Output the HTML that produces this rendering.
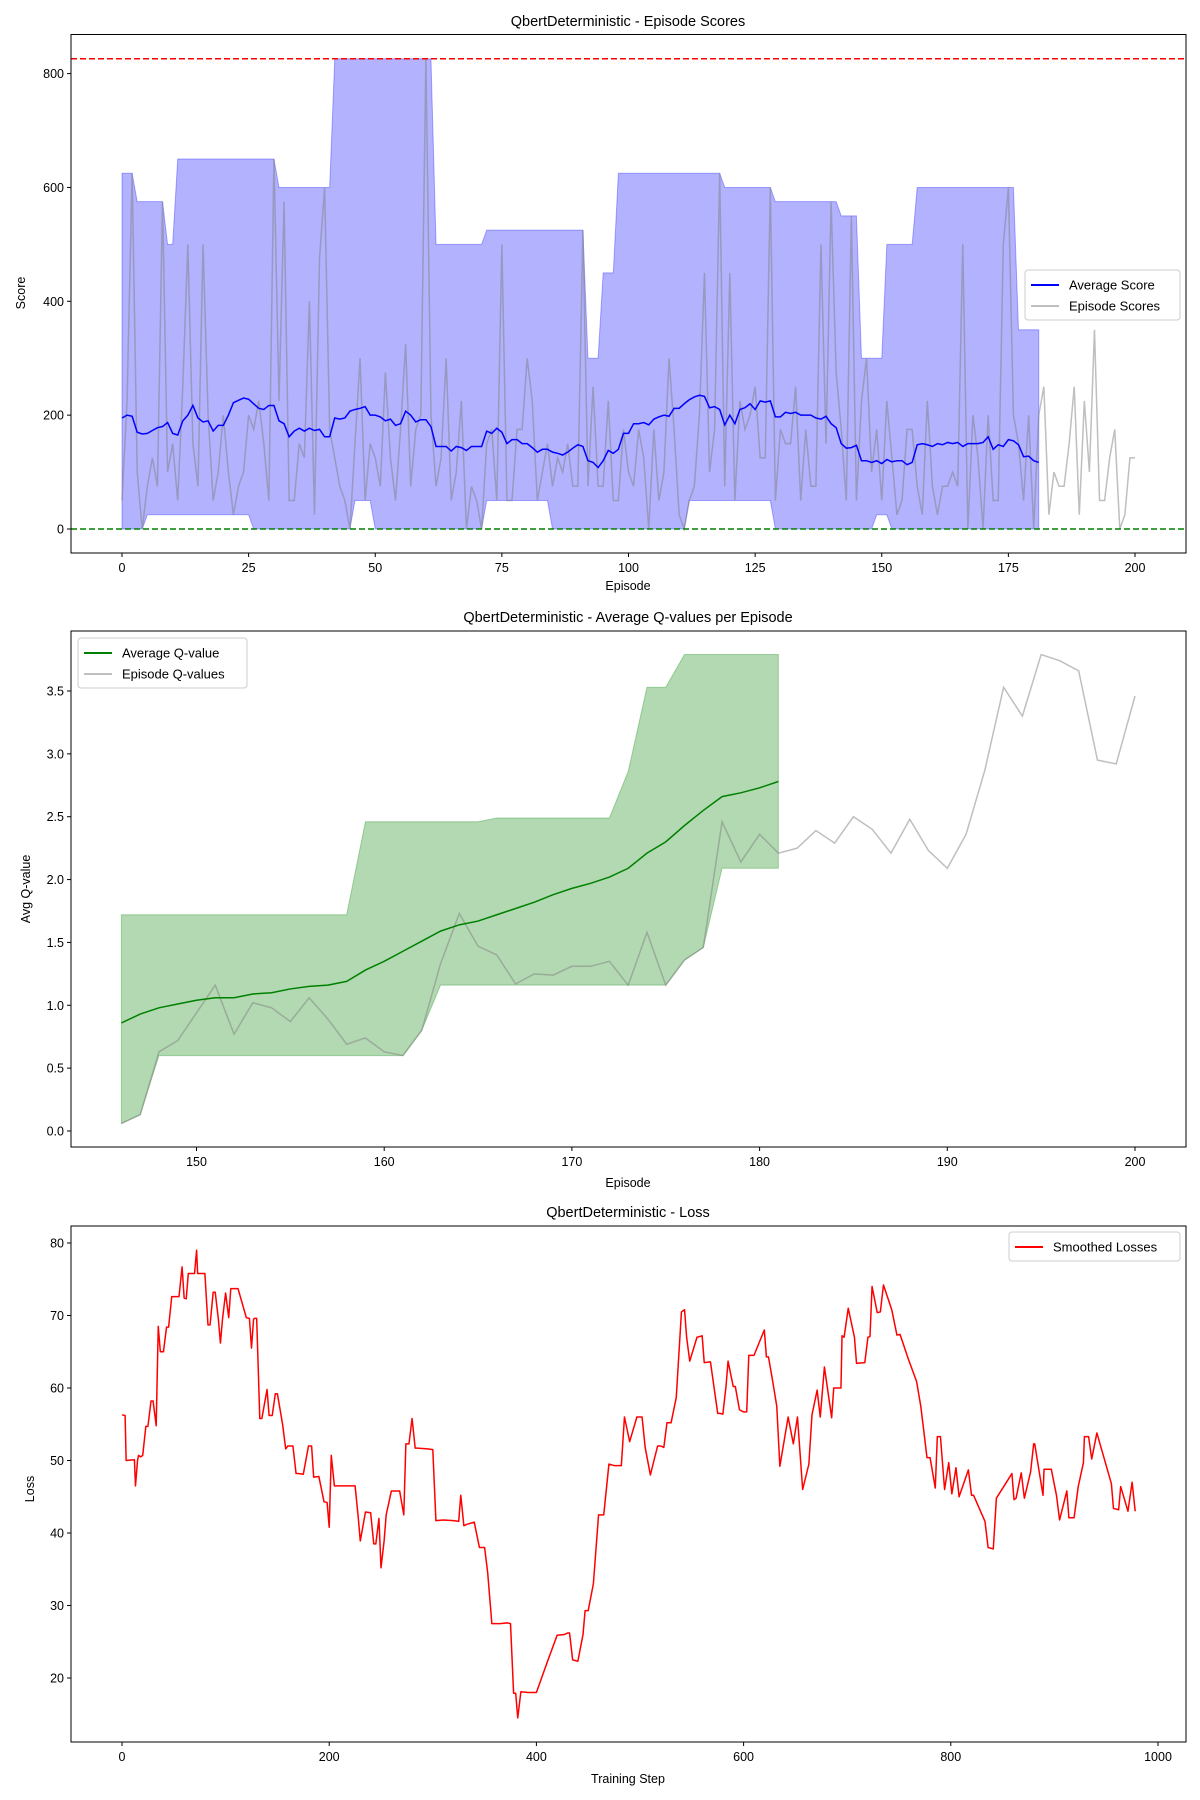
<!DOCTYPE html>
<html><head><meta charset="utf-8"><style>
html,body{margin:0;padding:0;background:#fff;}
svg{display:block;font-family:"Liberation Sans","DejaVu Sans",sans-serif;}
</style></head><body>
<svg id="chart" width="1200" height="1800" viewBox="0 0 1200 1800" xmlns="http://www.w3.org/2000/svg"></svg>
<script>
// ---------- Panel 1 data ----------
const scoreEpisodes = Array.from({length:201},(_, i)=>i);
const episodeScores = [50,225,625,100,0,75,125,75,575,100,150,50,250,500,150,75,500,200,50,100,
200,100,25,75,100,200,175,225,150,50,650,225,575,50,50,150,125,400,25,475,
600,175,125,75,50,0,150,300,50,150,125,75,275,125,50,175,325,75,175,200,
825,200,75,125,300,50,100,225,0,75,50,0,150,175,50,500,50,50,175,175,
300,225,50,100,150,75,125,100,150,75,75,525,75,250,75,75,225,50,50,175,
100,75,175,125,0,175,50,100,300,175,25,0,50,75,200,450,100,175,625,75,
450,50,225,175,200,250,125,125,600,50,175,150,150,250,50,175,75,75,500,150,
575,275,175,50,550,50,225,300,100,175,50,225,125,25,50,175,175,75,25,225,
75,25,75,75,100,75,500,0,200,125,0,200,50,50,500,600,200,150,50,200,
0,200,250,25,100,75,75,150,250,25,225,100,350,50,50,125,175,0,25,125,125];
const avgScores = [195,200,198,170,167,168,173,178,180,187,168,165,190,200,217,195,188,190,172,182,
182,200,222,226,230,228,220,212,210,217,217,190,185,162,172,177,172,177,173,175,
162,162,195,193,195,207,210,212,215,200,200,197,190,193,182,185,207,200,188,192,
192,180,145,145,145,137,145,143,138,145,145,145,172,168,177,170,150,157,157,150,
150,143,135,140,140,135,133,130,135,142,148,145,120,117,108,120,138,133,140,168,
168,185,185,187,183,193,197,200,198,212,212,220,227,232,235,233,213,215,210,183,
200,185,210,213,220,210,225,223,225,197,197,205,203,205,200,200,200,195,193,198,
185,178,150,142,143,147,120,120,117,120,115,122,118,120,120,113,117,148,150,148,
145,150,148,152,150,152,145,150,150,150,152,162,140,148,145,157,155,148,127,128,
120,117];
const upperBand = [625,625,625,575,575,575,575,575,575,500,500,650,650,650,650,650,650,650,650,650,
650,650,650,650,650,650,650,650,650,650,650,600,600,600,600,600,600,600,600,600,
600,600,826,826,826,826,826,826,826,826,826,826,826,826,826,826,826,826,826,826,
826,826,500,500,500,500,500,500,500,500,500,500,525,525,525,525,525,525,525,525,
525,525,525,525,525,525,525,525,525,525,525,525,300,300,300,450,450,450,625,625,
625,625,625,625,625,625,625,625,625,625,625,625,625,625,625,625,625,625,625,600,
600,600,600,600,600,600,600,600,600,575,575,575,575,575,575,575,575,575,575,575,
575,575,550,550,550,550,300,300,300,300,300,500,500,500,500,500,500,600,600,600,
600,600,600,600,600,600,600,600,600,600,600,600,600,600,600,600,600,350,350,350,
350,350];
const lowerBand = [0,0,0,0,0,25,25,25,25,25,25,25,25,25,25,25,25,25,25,25,
25,25,25,25,25,25,0,0,0,0,0,0,0,0,0,0,0,0,0,0,
0,0,0,0,0,0,50,50,50,50,0,0,0,0,0,0,0,0,0,0,
0,0,0,0,0,0,0,0,0,0,0,0,50,50,50,50,50,50,50,50,
50,50,50,50,50,0,0,0,0,0,0,0,0,0,0,0,0,0,0,0,
0,0,0,0,0,0,0,0,0,0,0,0,50,50,50,50,50,50,50,50,
50,50,50,50,50,50,50,50,50,0,0,0,0,0,0,0,0,0,0,0,
0,0,0,0,0,0,0,0,0,25,25,25,0,0,0,0,0,0,0,0,
0,0,0,0,0,0,0,0,0,0,0,0,0,0,0,0,0,0,0,0,
0,0];
const maxScoreLine = 826;
const minScoreLine = 0;
const scoreXTicks = [0,25,50,75,100,125,150,175,200];
const scoreYTicks = [0,200,400,600,800];

// ---------- Panel 2 data ----------
const qEpisodes = Array.from({length:55},(_, i)=>146+i);
const episodeQ = [0.06,0.13,0.63,0.72,0.94,1.16,0.77,1.02,0.98,0.87,1.06,0.89,0.69,0.74,0.63,0.60,0.80,1.33,1.73,1.47,
1.40,1.17,1.25,1.24,1.31,1.31,1.35,1.16,1.58,1.16,1.36,1.46,2.46,2.14,2.36,2.21,2.25,2.39,2.29,2.50,
2.40,2.21,2.48,2.23,2.09,2.36,2.87,3.53,3.30,3.79,3.74,3.66,2.95,2.92,3.46];
const avgQ = [0.86,0.93,0.98,1.01,1.04,1.06,1.06,1.09,1.10,1.13,1.15,1.16,1.19,1.28,1.35,1.43,1.51,1.59,1.64,1.67,
1.72,1.77,1.82,1.88,1.93,1.97,2.02,2.09,2.21,2.30,2.43,2.55,2.66,2.69,2.73,2.78];
const qUpper = [1.72,1.72,1.72,1.72,1.72,1.72,1.72,1.72,1.72,1.72,1.72,1.72,1.72,2.46,2.46,2.46,2.46,2.46,2.46,2.46,
2.49,2.49,2.49,2.49,2.49,2.49,2.49,2.86,3.53,3.53,3.79,3.79,3.79,3.79,3.79,3.79];
const qLower = [0.06,0.13,0.60,0.60,0.60,0.60,0.60,0.60,0.60,0.60,0.60,0.60,0.60,0.60,0.60,0.60,0.80,1.16,1.16,1.16,
1.16,1.16,1.16,1.16,1.16,1.16,1.16,1.16,1.16,1.16,1.36,1.46,2.09,2.09,2.09,2.09];
const qXTicks = [150,160,170,180,190,200];
const qYTicks = [0.0,0.5,1.0,1.5,2.0,2.5,3.0,3.5];

// ---------- Panel 3 data ----------
const lossSteps = [0,3,4,12,13,15,16,18,20,23,25,28,30,33,35,37,40,43,45,48,50,55,58,60,62,64,66,70,72,73,75,80,83,85,88,90,93,95,97,100,103,105,108,112,120,123,125,127,128,130,133,135,140,142,145,148,150,155,158,160,165,168,170,175,180,183,185,190,195,198,200,202,205,215,222,225,228,230,235,240,243,245,248,250,253,255,260,268,272,274,277,280,283,285,295,300,303,310,320,325,327,330,333,340,345,350,353,357,365,372,375,378,380,382,385,392,398,400,410,420,427,430,432,435,440,445,447,450,455,460,465,470,475,478,480,482,485,490,497,500,502,505,510,517,520,523,526,530,535,540,543,545,548,555,560,562,568,575,577,580,583,585,590,592,596,600,603,605,610,620,622,624,628,632,635,639,643,648,652,657,663,666,671,674,678,685,687,694,695,697,701,707,709,717,720,722,724,729,732,735,743,748,751,759,767,771,774,777,780,785,787,790,794,798,801,805,808,817,820,822,833,836,841,844,859,861,863,868,871,877,880,881,889,890,897,902,905,912,914,919,923,928,929,933,936,941,955,957,962,964,971,975,978];
const losses = [56.3,56.2,50,50.1,46.5,50,50.7,50.5,50.7,54.7,54.7,58.2,58.2,54.8,68.5,65,65,68.4,68.4,72.6,72.6,72.6,76.7,72.4,72.3,75.8,75.8,75.8,79,75.8,75.8,75.8,68.7,68.7,73.2,73.2,69.5,66.2,69.5,73.1,69.7,73.7,73.7,73.7,69.7,69.6,65.5,69.5,69.6,69.6,55.8,55.8,59.8,56.2,56.2,59.2,59.2,55,51.6,52,52,48.2,48.2,48.1,52,52,47.7,47.8,44.3,44.2,40.8,50.7,46.5,46.5,46.5,46.5,42.2,38.9,42.9,42.8,38.5,38.5,42,35.2,38.9,42.5,45.8,45.8,42.5,52.3,52.3,55.8,51.7,51.7,51.6,51.5,41.7,41.8,41.7,41.6,45.2,41,41.2,41.5,38,38,34.5,27.5,27.5,27.6,27.5,17.9,17.9,14.5,18.1,18,18,18,22,25.9,26,26.2,26.2,22.5,22.3,26,29.3,29.3,33,42.5,42.5,49.5,49.3,49.3,49.3,49.3,56,52.6,56,56,56,51.8,48,52,52,51.8,55.2,55.2,58.7,70.5,70.8,67,63.7,67,67.2,63.5,63.6,56.5,56.5,56.4,60.2,63.7,60.2,60.2,57,56.7,56.7,64.5,64.5,68,64.3,64.3,61,57.5,49.2,52.6,56,52.3,56,46,49.5,56.3,59.7,56,62.9,55.9,60,60,67.2,67,71,67,63.4,63.5,67,67.1,74,70.4,70.5,74.2,70.8,67.3,67.4,64,60.9,57.5,54,50.4,50.4,46.2,53.3,53.3,46,49.7,45.4,49,45,48.7,45.2,45.2,41.6,38,37.8,44.8,48.2,44.6,44.8,48.3,44.8,48.4,52.3,52.3,45.2,48.8,48.8,45.2,41.8,45.8,42.1,42.1,46.4,49.7,53.3,53.3,50.2,53.8,46.8,43.4,43.2,46.4,43,47,43,52.8,52.8];
const lossXTicks = [0,200,400,600,800,1000];
const lossYTicks = [20,30,40,50,60,70,80];

// ---------- drawing ----------
const NS = 'http://www.w3.org/2000/svg';
const svg = document.getElementById('chart');
function mk(tag, attrs, parent){
  const e = document.createElementNS(NS, tag);
  for (const k in attrs) e.setAttribute(k, attrs[k]);
  (parent||svg).appendChild(e);
  return e;
}
function txt(x,y,s,size,anchor,parent,rot){
  const t = mk('text',{x:x,y:y,'font-size':size,'text-anchor':anchor||'middle',fill:'#000'},parent);
  if (rot) t.setAttribute('transform','rotate(-90 '+x+' '+y+')');
  t.textContent = s;
  return t;
}
function pathFrom(xs, ys, sx, sy){
  let d='';
  for (let i=0;i<ys.length;i++) d += (i?'L':'M')+sx(xs[i]).toFixed(2)+','+sy(ys[i]).toFixed(2);
  return d;
}
function bandPath(xs, up, lo, sx, sy){
  let d='';
  for (let i=0;i<up.length;i++) d += (i?'L':'M')+sx(xs[i]).toFixed(2)+','+sy(up[i]).toFixed(2);
  for (let i=lo.length-1;i>=0;i--) d += 'L'+sx(xs[i]).toFixed(2)+','+sy(lo[i]).toFixed(2);
  return d+'Z';
}
function axes(g, L, T, R, B, xt, yt, sx, sy, fmt){
  for (const v of xt){
    const x = sx(v);
    mk('line',{x1:x,y1:B,x2:x,y2:B+4,stroke:'#000','stroke-width':1},g);
    const t = txt(x,B+19,String(v),12.5,'middle',g);
    
    
  }
  for (const v of yt){
    const y = sy(v);
    mk('line',{x1:L-4,y1:y,x2:L,y2:y,stroke:'#000','stroke-width':1},g);
    const t = txt(L-7,y+4.5,fmt?fmt(v):String(v),12.5,'end',g);
    
    
  }
}
function frame(g,L,T,R,B){
  const r = mk('rect',{x:L,y:T,width:R-L,height:B-T,fill:'none',stroke:'#000','stroke-width':1},g);
  
  
}
function legend(g,x,y,w,entries){
  const box = mk('rect',{x:x,y:y,width:w,height:8+entries.length*21,rx:3,fill:'#fff','fill-opacity':0.8,stroke:'#ccc','stroke-width':1},g);
  
  
  entries.forEach((e,i)=>{
    const yy = y+15+i*21;
    const ln = mk('line',{x1:x+6,y1:yy,x2:x+34,y2:yy,stroke:e.c,'stroke-width':2},g);
    
    
    const t = txt(x+44,yy+4.5,e.t,13,'start',g);
    
    
  });
}

// Panel 1
(function(){
  const L=71,T=34.5,R=1186,B=553;
  const sx = v => 122 + v*(1135-122)/200;
  const sy = v => 529 - v*(529-73.6)/800;
  const g = mk('g',{});
  
  
  const band = mk('path',{d:bandPath(scoreEpisodes,upperBand,lowerBand,sx,sy),fill:'#0000ff','fill-opacity':0.3,stroke:'#0000ff','stroke-opacity':0.3,'stroke-width':1},g);
  
  
  const gl = mk('path',{d:pathFrom(scoreEpisodes,episodeScores,sx,sy),fill:'none',stroke:'#808080','stroke-opacity':0.5,'stroke-width':1.5},g);
  
  
  const al = mk('path',{d:pathFrom(scoreEpisodes,avgScores,sx,sy),fill:'none',stroke:'#0000ff','stroke-width':1.5},g);
  
  
  const mx = mk('line',{x1:L,x2:R,y1:sy(maxScoreLine),y2:sy(maxScoreLine),stroke:'#ff0000','stroke-width':1.5,'stroke-dasharray':'6,3'},g);
  
  
  const mn = mk('line',{x1:L,x2:R,y1:sy(minScoreLine),y2:sy(minScoreLine),stroke:'#008000','stroke-width':1.5,'stroke-dasharray':'6,3'},g);
  
  
  frame(g,L,T,R,B);
  axes(g,L,T,R,B,scoreXTicks,scoreYTicks,sx,sy);
  const ti = txt(628,26,'QbertDeterministic - Episode Scores',14.5,'middle',g);
   
  const xl = txt(628,590,'Episode',12.5,'middle',g);
   
  const yl = txt(25,293,'Score',12.5,'middle',g,true);
   
  legend(g,1025,270,155,[{t:'Average Score',c:'#0000ff'},{t:'Episode Scores',c:'#bfbfbf'}]);
})();

// Panel 2
(function(){
  const L=71,T=631,R=1186,B=1147;
  const sx = v => 196.5 + (v-150)*(1135-196.5)/50;
  const sy = v => 1131 - v*(1131-691)/3.5;
  const g = mk('g',{});
  
  
  const bx = qEpisodes.slice(0,qUpper.length);
  const band = mk('path',{d:bandPath(bx,qUpper,qLower,sx,sy),fill:'#008000','fill-opacity':0.3,stroke:'#008000','stroke-opacity':0.3,'stroke-width':1},g);
  
  
  const gl = mk('path',{d:pathFrom(qEpisodes,episodeQ,sx,sy),fill:'none',stroke:'#808080','stroke-opacity':0.5,'stroke-width':1.5},g);
  
  
  const al = mk('path',{d:pathFrom(bx,avgQ,sx,sy),fill:'none',stroke:'#008000','stroke-width':1.5},g);
  
  
  frame(g,L,T,R,B);
  axes(g,L,T,R,B,qXTicks,qYTicks,sx,sy,v=>v.toFixed(1));
  const ti = txt(628,622,'QbertDeterministic - Average Q-values per Episode',14.5,'middle',g);
   
  const xl = txt(628,1187,'Episode',12.5,'middle',g);
   
  const yl = txt(30,889,'Avg Q-value',12.5,'middle',g,true);
   
  legend(g,78,638,169,[{t:'Average Q-value',c:'#008000'},{t:'Episode Q-values',c:'#bfbfbf'}]);
})();

// Panel 3
(function(){
  const L=71,T=1226,R=1186,B=1742;
  const sx = v => 122 + v*(1158-122)/1000;
  const sy = v => 1678 - (v-20)*(1678-1243)/60;
  const g = mk('g',{});
  
  
  const ll = mk('path',{d:pathFrom(lossSteps,losses,sx,sy),fill:'none',stroke:'#ff0000','stroke-width':1.5,'stroke-linejoin':'round'},g);
  
  
  frame(g,L,T,R,B);
  axes(g,L,T,R,B,lossXTicks,lossYTicks,sx,sy);
  const ti = txt(628,1217,'QbertDeterministic - Loss',14.5,'middle',g);
   
  const xl = txt(628,1783,'Training Step',12.5,'middle',g);
   
  const yl = txt(34,1489,'Loss',12.5,'middle',g,true);
   
  legend(g,1009,1232,171,[{t:'Smoothed Losses',c:'#ff0000'}]);
})();
</script>
</body></html>
